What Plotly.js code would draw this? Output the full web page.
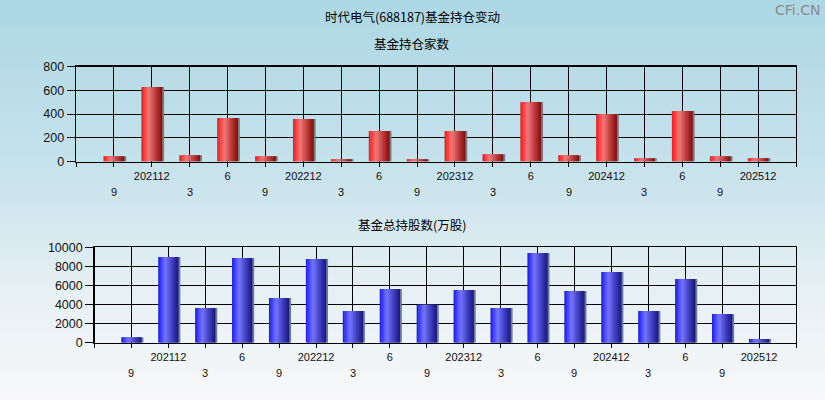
<!DOCTYPE html>
<html><head><meta charset="utf-8">
<script src="https://cdn.plot.ly/plotly-3.0.1.min.js"></script>
<style>
html,body{margin:0;padding:0;}
body{width:825px;height:400px;background:linear-gradient(to bottom,#acd7e5 0%,#c9e3ec 45%,#e4eff4 70%,#f8f8f9 100%);}
#chart{width:825px;height:400px;}
</style></head>
<body><div id="chart"></div>
<script>
// ---- data ----
const categories = ["9","202112","3","6","9","202212","3","6","9","202312","3","6","9","202412","3","6","9","202512"];
const upperRow  = [false,true,false,true,false,true,false,true,false,true,false,true,false,true,false,true,false,true];
const fundCount  = [45,628,53,366,45,358,19,256,19,256,62,502,53,398,28,426,45,28];
const totalShares = [580,8980,3640,8880,4680,8770,3320,5630,3980,5520,3640,9400,5420,7410,3320,6680,3010,390];
const chartTitle = "时代电气(688187)基金持仓变动";
const sub1 = "基金持仓家数";
const sub2 = "基金总持股数(万股)";

const xIdx = categories.map((_, i) => i);
const W = 0.55, N = 14;

function lerp(a,b,t){return a+(b-a)*t;}
function grad(stops, t){
  for(let i=0;i<stops.length-1;i++){
    const [p0,c0]=stops[i],[p1,c1]=stops[i+1];
    if(t<=p1){const u=(t-p0)/(p1-p0);
      return `rgb(${Math.round(lerp(c0[0],c1[0],u))},${Math.round(lerp(c0[1],c1[1],u))},${Math.round(lerp(c0[2],c1[2],u))})`;}
  }
  const c=stops[stops.length-1][1];return `rgb(${c[0]},${c[1]},${c[2]})`;
}
const redStops  = [[0,[255,18,18]],[0.35,[242,122,122]],[0.7,[190,55,55]],[1,[118,14,14]]];
const blueStops = [[0,[22,22,255]],[0.35,[118,118,255]],[0.7,[60,60,190]],[1,[22,22,118]]];

function barTraces(vals, stops, xa, ya){
  const tr = [];
  tr.push({type:'bar', x:xIdx, y:vals, xaxis:xa, yaxis:ya, width:W, offset:-W/2+0.05,
    marker:{color:'#6f7f88', line:{width:0}}, hoverinfo:'skip', showlegend:false});
  for(let k=0;k<N;k++){
    const t=(k+0.5)/N;
    tr.push({type:'bar', x:xIdx, y:vals, xaxis:xa, yaxis:ya,
      width: (k<N-1? W/N+0.012 : W/N), offset:-W/2 + k*W/N,
      marker:{color:grad(stops,t), line:{width:0}}, hoverinfo:'skip', showlegend:false});
  }
  return tr;
}

const tickVals = [-1].concat(xIdx, [18]);
const upperText = [''].concat(categories.map((c,i)=>upperRow[i]?c:''), ['']);

const tickFont = {family:'"Liberation Sans", Arial, sans-serif', size:11, color:'#111'};
const yFont = {family:'"Liberation Sans", Arial, sans-serif', size:12.5, color:'#111'};
const cjk = '"Noto Sans CJK SC", sans-serif';

function xAxis(dom, anchor){
  return {domain:dom, anchor:anchor, range:[-1,18], tickmode:'array', tickvals:tickVals, ticktext:upperText,
    showgrid:true, gridcolor:'#000', gridwidth:1, zeroline:false, showline:true, linecolor:'#000', linewidth:1.3, mirror:true,
    ticks:'outside', ticklen:4, tickcolor:'#000', tickfont:tickFont, fixedrange:true};
}
function yAxis(dom, anchor, range, dtick){
  return {domain:dom, anchor:anchor, range:range, dtick:dtick, tick0:0, tickformat:'d', showgrid:true, gridcolor:'#000', gridwidth:1,
    zeroline:false, showline:true, linecolor:'#000', linewidth:1.3, mirror:true,
    ticks:'outside', ticklen:8, tickcolor:'#000', tickfont:yFont, fixedrange:true};
}

const annotations = [
  {text:chartTitle, xref:'paper', yref:'paper', x:0.4994, y:1-17/400, yanchor:'middle', showarrow:false, font:{family:cjk, size:12.5, color:'#000'}},
  {text:sub1, xref:'paper', yref:'paper', x:0.4994, y:1-43/400, yanchor:'middle', showarrow:false, font:{family:cjk, size:12.5, color:'#000'}},
  {text:sub2, xref:'paper', yref:'paper', x:0.4994, y:1-224/400, yanchor:'middle', showarrow:false, font:{family:cjk, size:12.5, color:'#000'}},
  {text:'CFi.CN', xref:'paper', yref:'paper', x:822/825, y:1-10/400, xanchor:'right', yanchor:'middle', showarrow:false,
   font:{family:'"DejaVu Sans", sans-serif', size:14, color:'#8a8a8a'}}
];
categories.forEach((c,i)=>{
  if(!upperRow[i]){
    annotations.push({text:c, xref:'x', yref:'paper', x:i, y:1-192/400, yanchor:'middle', showarrow:false, font:tickFont});
    annotations.push({text:c, xref:'x2', yref:'paper', x:i, y:1-373/400, yanchor:'middle', showarrow:false, font:tickFont});
  }
});

const data = barTraces(fundCount, redStops, 'x', 'y').concat(barTraces(totalShares, blueStops, 'x2', 'y2'));

const layout = {
  width:825, height:400, margin:{l:0,r:0,t:0,b:0},
  paper_bgcolor:'rgba(0,0,0,0)', plot_bgcolor:'rgba(0,0,0,0)',
  barmode:'overlay', showlegend:false,
  xaxis: xAxis([76/825, 796/825], 'y'),
  yaxis: yAxis([(400-161.5)/400, (400-66.5)/400], 'x', [0,800], 200),
  xaxis2: xAxis([94.5/825, 796/825], 'y2'),
  yaxis2: yAxis([(400-342.7)/400, (400-247.3)/400], 'x2', [0,10000], 2000),
  annotations: annotations
};
Plotly.newPlot('chart', data, layout, {staticPlot:true, displayModeBar:false});
</script></body></html>
